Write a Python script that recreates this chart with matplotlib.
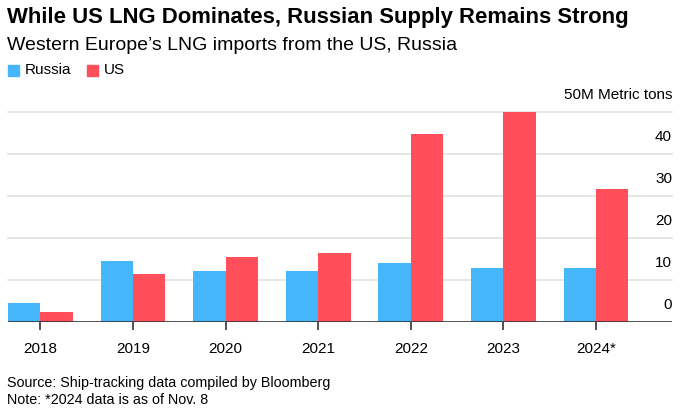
import matplotlib
matplotlib.use("Agg")
import matplotlib.pyplot as plt
import matplotlib.transforms as mtransforms
import numpy as np

years = ["2018", "2019", "2020", "2021", "2022", "2023", "2024*"]
russia = [4.5, 14.5, 12.3, 12.2, 14.0, 12.8, 12.9]
us = [2.4, 11.6, 15.5, 16.5, 44.7, 49.9, 31.8]
y_ticks = [0, 10, 20, 30, 40, 50]
y_labels = ["0", "10", "20", "30", "40", "50M Metric tons"]

RUSSIA_COLOR = "#45B6FA"
US_COLOR = "#FF4F5B"

plt.rcParams["font.family"] = ["Liberation Sans", "DejaVu Sans"]

W, H = 681, 413
fig = plt.figure(figsize=(W / 100, H / 100), dpi=100)

left, right, top, bottom = 8, 672, 112, 322.3
ax = fig.add_axes([left / W, 1 - bottom / H, (right - left) / W, (bottom - top) / H])

x = np.arange(len(years))
bw = 0.349
ax.bar(x - bw / 2, russia, width=bw, color=RUSSIA_COLOR, zorder=3)
ax.bar(x + bw / 2, us, width=bw, color=US_COLOR, zorder=3)

ax.set_xlim(-0.349, 6.82)
ax.set_ylim(0, 50)
for v in y_ticks[1:]:
    ax.axhline(v, color="#e1e1e1", lw=1.2, zorder=1, clip_on=False)
ax.axhline(0, color="#333333", lw=1.2, zorder=4)

for s in ax.spines.values():
    s.set_visible(False)
ax.set_yticks([])
ax.set_xticks(x)
ax.set_xticklabels(years, fontsize=11)
ax.tick_params(axis="x", length=6, width=1.2, color="#333333", pad=8)

# value labels sit just above each gridline, right-aligned
offset = mtransforms.offset_copy(ax.get_yaxis_transform(), fig=fig, x=0, y=10, units="dots")
for v, lab in zip(y_ticks, y_labels):
    ax.text(1.0, v, lab, transform=offset, ha="right", va="bottom", fontsize=11)

fig.text(7 / W, 1 - 17 / H, "While US LNG Dominates, Russian Supply Remains Strong",
         fontweight="bold", fontsize=15.9, va="center", ha="left")
fig.text(7 / W, 1 - 45 / H, "Western Europe\u2019s LNG imports from the US, Russia",
         fontsize=14, va="center", ha="left")

# legend
fig.patches.append(plt.Rectangle((8 / W, 1 - 76 / H), 11 / W, 11 / H,
                                 transform=fig.transFigure, color=RUSSIA_COLOR))
fig.text(25 / W, 1 - 70 / H, "Russia", fontsize=11, va="center", ha="left")
fig.patches.append(plt.Rectangle((87 / W, 1 - 76 / H), 11 / W, 11 / H,
                                 transform=fig.transFigure, color=US_COLOR))
fig.text(104 / W, 1 - 70 / H, "US", fontsize=11, va="center", ha="left")

fig.text(7 / W, 1 - 383 / H, "Source: Ship-tracking data compiled by Bloomberg",
         fontsize=10.3, va="center", ha="left")
fig.text(7 / W, 1 - 400 / H, "Note: *2024 data is as of Nov. 8",
         fontsize=10.3, va="center", ha="left")

fig.savefig("out.png", dpi=100)
